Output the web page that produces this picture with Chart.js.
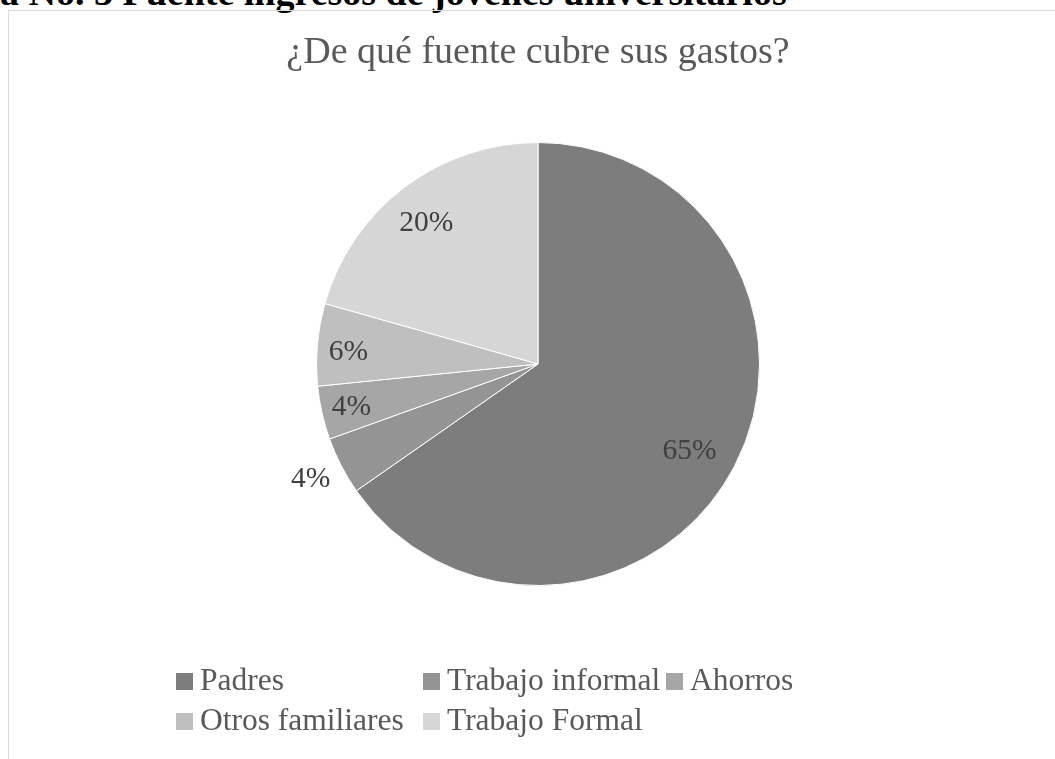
<!DOCTYPE html>
<html>
<head>
<meta charset="utf-8">
<script src="https://cdn.jsdelivr.net/npm/chart.js@4.4.0/dist/chart.umd.min.js"></script>
<style>
  html, body { margin:0; padding:0; background:#fff; }
  body { width:1055px; height:759px; position:relative; overflow:hidden; font-family:"Liberation Serif", "Times New Roman", serif; }
  #caption { position:absolute; left:0; top:-27px; font-weight:bold; font-size:38px; line-height:38px; color:#000; white-space:nowrap; }
  #box { position:absolute; left:8px; top:10px; width:1100px; height:800px; border-left:1px solid #d9d9d9; border-top:1px solid #d9d9d9; }
  #pie { position:absolute; left:0; top:0; }
  #legend { position:absolute; left:0; top:0; }
  .lg-sw { position:absolute; width:17px; height:17px; }
  .lg-tx { position:absolute; color:#595959; font-size:31.5px; line-height:32px; white-space:nowrap; }
</style>
</head>
<body>
<div id="caption">a No. 3 Fuente ingresos de jóvenes universitarios</div>
<div id="box"></div>
<canvas id="pie" width="1055" height="759"></canvas>
<div id="legend"></div>
<script>
// data (percent of respondents)
const labels   = ['Padres', 'Trabajo informal', 'Ahorros', 'Otros familiares', 'Trabajo Formal'];
const values   = [65.3, 4.2, 3.9, 6.0, 20.6];
const shown    = ['65%', '4%', '4%', '6%', '20%'];
const colors   = ['#7d7d7d', '#949494', '#a6a6a6', '#bfbfbf', '#d6d6d6'];

// label placement: [fraction of radius, angle nudge in degrees]
const labelPlace = [[0.789, 2.3], [1.152, 0.4], [0.864, -0.2], [0.858, -1.4], [0.811, -1.4]];

// legend grid: swatch left x and row (0/1)
const legendX   = [176, 423, 666, 176, 423];
const legendRow = [0, 0, 0, 1, 1];
const rowTop    = [664, 704];

const pieLabels = {
  id: 'pieLabels',
  afterDatasetsDraw(chart) {
    const ctx = chart.ctx;
    const meta = chart.getDatasetMeta(0);
    ctx.save();
    ctx.font = '29.5px "Liberation Serif", serif';
    ctx.fillStyle = '#404040';
    ctx.textAlign = 'center';
    ctx.textBaseline = 'middle';
    meta.data.forEach((arc, i) => {
      const p = arc.getProps(['x', 'y', 'startAngle', 'endAngle', 'outerRadius'], true);
      const mid = (p.startAngle + p.endAngle) / 2 + labelPlace[i][1] * Math.PI / 180;
      const r = p.outerRadius * labelPlace[i][0];
      ctx.fillText(shown[i], p.x + Math.cos(mid) * r, p.y + Math.sin(mid) * r);
    });
    ctx.restore();
  }
};

new Chart(document.getElementById('pie'), {
  type: 'pie',
  data: { labels, datasets: [{ data: values, backgroundColor: colors, borderColor: '#ffffff', borderWidth: 1 }] },
  options: {
    responsive: false,
    animation: false,
    layout: { padding: { top: 20, bottom: 173, left: 21, right: 0 } },
    plugins: {
      legend: { display: false },
      tooltip: { enabled: false },
      title: {
        display: true,
        text: '¿De qué fuente cubre sus gastos?',
        color: '#595959',
        font: { family: '"Liberation Serif", serif', size: 38, weight: 'normal' },
        padding: { top: 10.4, bottom: 66 }
      }
    }
  },
  plugins: [pieLabels]
});

document.getElementById('legend').innerHTML = labels.map((l, i) => {
  const top = rowTop[legendRow[i]];
  return `<div class="lg-sw" style="left:${legendX[i]}px;top:${top + 9}px;background:${colors[i]}"></div>` +
         `<div class="lg-tx" style="left:${legendX[i] + 24}px;top:${top}px;">${l}</div>`;
}).join('');
</script>
</body>
</html>
